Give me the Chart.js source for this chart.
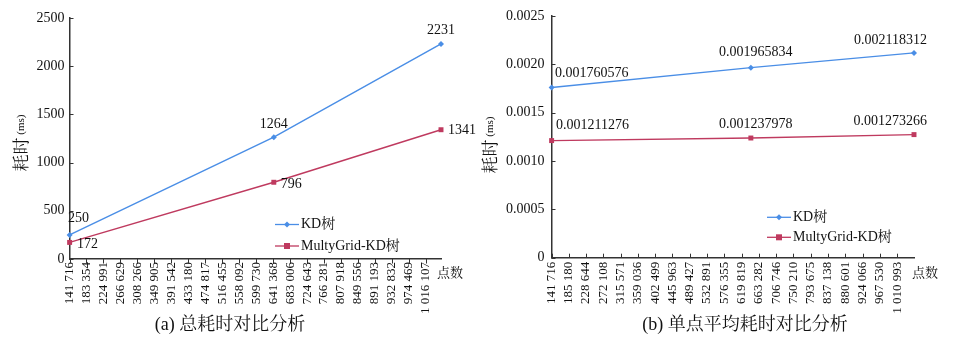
<!DOCTYPE html>
<html>
<head>
<meta charset="utf-8">
<script src="https://cdn.jsdelivr.net/npm/chart.js@4.4.0/dist/chart.umd.min.js"></script>
<style>
  html, body { margin: 0; padding: 0; background: #fff; }
  #wrap { position: relative; width: 957px; height: 344px; }
  #chartA { position: absolute; left: 0; top: 0; }
  #chartB { position: absolute; left: 480px; top: 0; }
</style>
</head>
<body>
<div id="wrap">
  <canvas id="chartA" width="480" height="344"></canvas>
  <canvas id="chartB" width="477" height="344"></canvas>
</div>
<script>
// Données
const seriesNames = ['KD树', 'MultyGrid-KD树'];
const pointCounts = [142000, 642986, 1053200];

// (a) total en ms
const kdTotal = [250, 1264, 2231];
const mgTotal = [172, 796, 1341];

// (b) moyenne par point en ms
const kdAvg = [0.001760576, 0.001965834, 0.002118312];
const mgAvg = [0.001211276, 0.001237978, 0.001273266];

// graduations de l'axe des points
const ticksA = [141716, 183354, 224991, 266629, 308266, 349905, 391542, 433180, 474817, 516455, 558092,
                599730, 641368, 683006, 724643, 766281, 807918, 849556, 891193, 932832, 974469, 1016107];
const ticksB = [141716, 185180, 228644, 272108, 315571, 359036, 402499, 445963, 489427, 532891, 576355,
                619819, 663282, 706746, 750210, 793675, 837138, 880601, 924066, 967530, 1010993];

const SERIF = '"Liberation Serif", "Noto Serif CJK SC", "Noto Sans CJK SC", serif';
const CJK = '"Noto Serif CJK SC", "Noto Sans CJK SC", serif';
const BLUE = '#4a8ee6';
const RED = '#bf3a5f';
const AXIS = '#333';

function spaced(v) {
    return String(v).replace(/\B(?=(\d{3})+(?!\d))/g, ' ');
}

function toPoints(vals) {
    return pointCounts.map((x, i) => ({ x: x, y: vals[i] }));
}

// dessine marqueurs, étiquettes, légende et titres
const extras = {
    id: 'extras',
    afterDatasetsDraw(chart, args, opts) {
        const ctx = chart.ctx;
        const xs = chart.scales.x, ys = chart.scales.y;
        const area = chart.chartArea;
        ctx.save();

        // petites graduations
        ctx.strokeStyle = AXIS;
        ctx.lineWidth = 1;
        xs.ticks.forEach(t => {
            const px = Math.round(xs.getPixelForValue(t.value)) + 0.5;
            ctx.beginPath();
            ctx.moveTo(px, area.bottom);
            ctx.lineTo(px, area.bottom + opts.xTickLen);
            ctx.stroke();
        });
        ys.ticks.forEach(t => {
            const py = Math.round(ys.getPixelForValue(t.value)) + 0.5;
            ctx.beginPath();
            ctx.moveTo(area.left, py);
            ctx.lineTo(area.left + 4, py);
            ctx.stroke();
        });

        // étiquettes de valeurs
        ctx.font = '14px ' + SERIF;
        ctx.fillStyle = '#111';
        ctx.textBaseline = 'middle';
        chart.data.datasets.forEach((ds, i) => {
            const meta = chart.getDatasetMeta(i);
            meta.data.forEach((pt, j) => {
                const p = opts.labelPos[i][j];
                ctx.textAlign = p[2];
                ctx.fillText(String(ds.data[j].y), pt.x + p[0], pt.y + p[1]);
            });
        });

        // légende
        chart.data.datasets.forEach((ds, i) => {
            const y = opts.legendY[i];
            const x = opts.legendX;
            ctx.strokeStyle = ds.borderColor;
            ctx.lineWidth = 1.3;
            ctx.beginPath();
            ctx.moveTo(x, y);
            ctx.lineTo(x + 24, y);
            ctx.stroke();
            ctx.fillStyle = ds.borderColor;
            const cx = x + 12;
            if (ds.pointStyle === 'rect') {
                ctx.fillRect(cx - 3, y - 3, 6, 6);
            } else {
                ctx.beginPath();
                ctx.moveTo(cx, y - 3); ctx.lineTo(cx + 3, y); ctx.lineTo(cx, y + 3); ctx.lineTo(cx - 3, y);
                ctx.closePath();
                ctx.fill();
            }
            ctx.fillStyle = '#111';
            ctx.textAlign = 'left';
            ctx.font = '14px ' + SERIF;
            ctx.fillText(ds.label, x + 26, y);
        });

        // titre de l'axe y : 耗时 (ms)
        ctx.translate(opts.yTitle[0], opts.yTitle[1]);
        ctx.rotate(-Math.PI / 2);
        ctx.font = '17px ' + CJK;
        const w1 = ctx.measureText('耗时').width;
        ctx.font = '11px ' + SERIF;
        const w2 = ctx.measureText(' (ms)').width;
        const start = -(w1 + w2) / 2;
        ctx.textAlign = 'left';
        ctx.font = '17px ' + CJK;
        ctx.fillText('耗时', start, 0);
        ctx.font = '11px ' + SERIF;
        ctx.fillText(' (ms)', start + w1, 0);
        ctx.setTransform(1, 0, 0, 1, 0, 0);

        // titre de l'axe x
        ctx.font = '13px ' + CJK;
        ctx.textAlign = 'left';
        ctx.fillText('点数', opts.xTitle[0], opts.xTitle[1]);

        // sous-titre
        ctx.font = '18px ' + SERIF;
        ctx.textAlign = 'center';
        ctx.fillText(opts.caption, opts.captionPos[0], opts.captionPos[1]);
        ctx.restore();
    }
};

function makeChart(id, kd, mg, xTicks, yMax, yStep, yFmt, dims, extraOpts) {
    const ctx = document.getElementById(id).getContext('2d');
    return new Chart(ctx, {
        type: 'line',
        data: {
            datasets: [
                { label: seriesNames[0], data: toPoints(kd), borderColor: BLUE, backgroundColor: BLUE,
                  borderWidth: 1.4, pointStyle: 'rectRot', pointRadius: 3, pointBorderWidth: 0, tension: 0, clip: false },
                { label: seriesNames[1], data: toPoints(mg), borderColor: RED, backgroundColor: RED,
                  borderWidth: 1.4, pointStyle: 'rect', pointRadius: 3.5, pointBorderWidth: 0, tension: 0, clip: false }
            ]
        },
        options: {
            responsive: false,
            animation: false,
            layout: { padding: { left: 0, top: dims.top, right: dims.right, bottom: 0 } },
            scales: {
                x: {
                    type: 'linear',
                    min: 141716,
                    max: pointCounts[pointCounts.length - 1],
                    afterBuildTicks: scale => { scale.ticks = xTicks.map(v => ({ value: v })); },
                    afterFit: scale => { scale.height = dims.xH; },
                    grid: { display: false, drawTicks: false },
                    border: { display: true, color: AXIS, width: 1.5 },
                    ticks: {
                        autoSkip: false,
                        minRotation: 90,
                        maxRotation: 90,
                        padding: dims.xPad,
                        color: '#111',
                        font: { family: SERIF, size: 13 },
                        callback: v => spaced(v)
                    }
                },
                y: {
                    min: 0,
                    max: yMax,
                    afterFit: scale => { scale.width = dims.yW; },
                    grid: { display: false, drawTicks: false },
                    border: { display: true, color: AXIS, width: 1.5 },
                    ticks: {
                        stepSize: yStep,
                        padding: dims.yPad,
                        color: '#111',
                        font: { family: SERIF, size: 14 },
                        callback: yFmt
                    }
                }
            },
            plugins: {
                legend: { display: false },
                tooltip: { enabled: false },
                extras: extraOpts
            }
        },
        plugins: [extras]
    });
}

makeChart('chartA', kdTotal, mgTotal, ticksA, 2500, 500, v => String(v),
    { top: 18, right: 39, yW: 69.5, xH: 85, xPad: 3, yPad: 5 },
    {
        xTickLen: 4.5,
        labelPos: [
            [[-1.5, -17, 'left'], [0, -13, 'center'], [0, -13.5, 'center']],
            [[7.5, 2, 'left'], [7, 2.5, 'left'], [7, 1, 'left']]
        ],
        legendX: 275,
        legendY: [224.5, 246],
        yTitle: [21, 143],
        xTitle: [437, 272],
        caption: '(a) 总耗时对比分析',
        captionPos: [230, 325]
    });

makeChart('chartB', kdAvg, mgAvg, ticksB, 0.0025, 0.0005, v => (v === 0 ? '0' : v.toFixed(4)),
    { top: 16, right: 43, yW: 71.5, xH: 86.3, xPad: 4, yPad: 7 },
    {
        xTickLen: -4,
        labelPos: [
            [[3.5, -14, 'left'], [5, -15, 'center'], [13, -13, 'right']],
            [[4.5, -15, 'left'], [5, -14, 'center'], [13, -13, 'right']]
        ],
        legendX: 287,
        legendY: [217.3, 237.3],
        yTitle: [10, 145],
        xTitle: [432, 272],
        caption: '(b) 单点平均耗时对比分析',
        captionPos: [265, 325]
    });
</script>
</body>
</html>
